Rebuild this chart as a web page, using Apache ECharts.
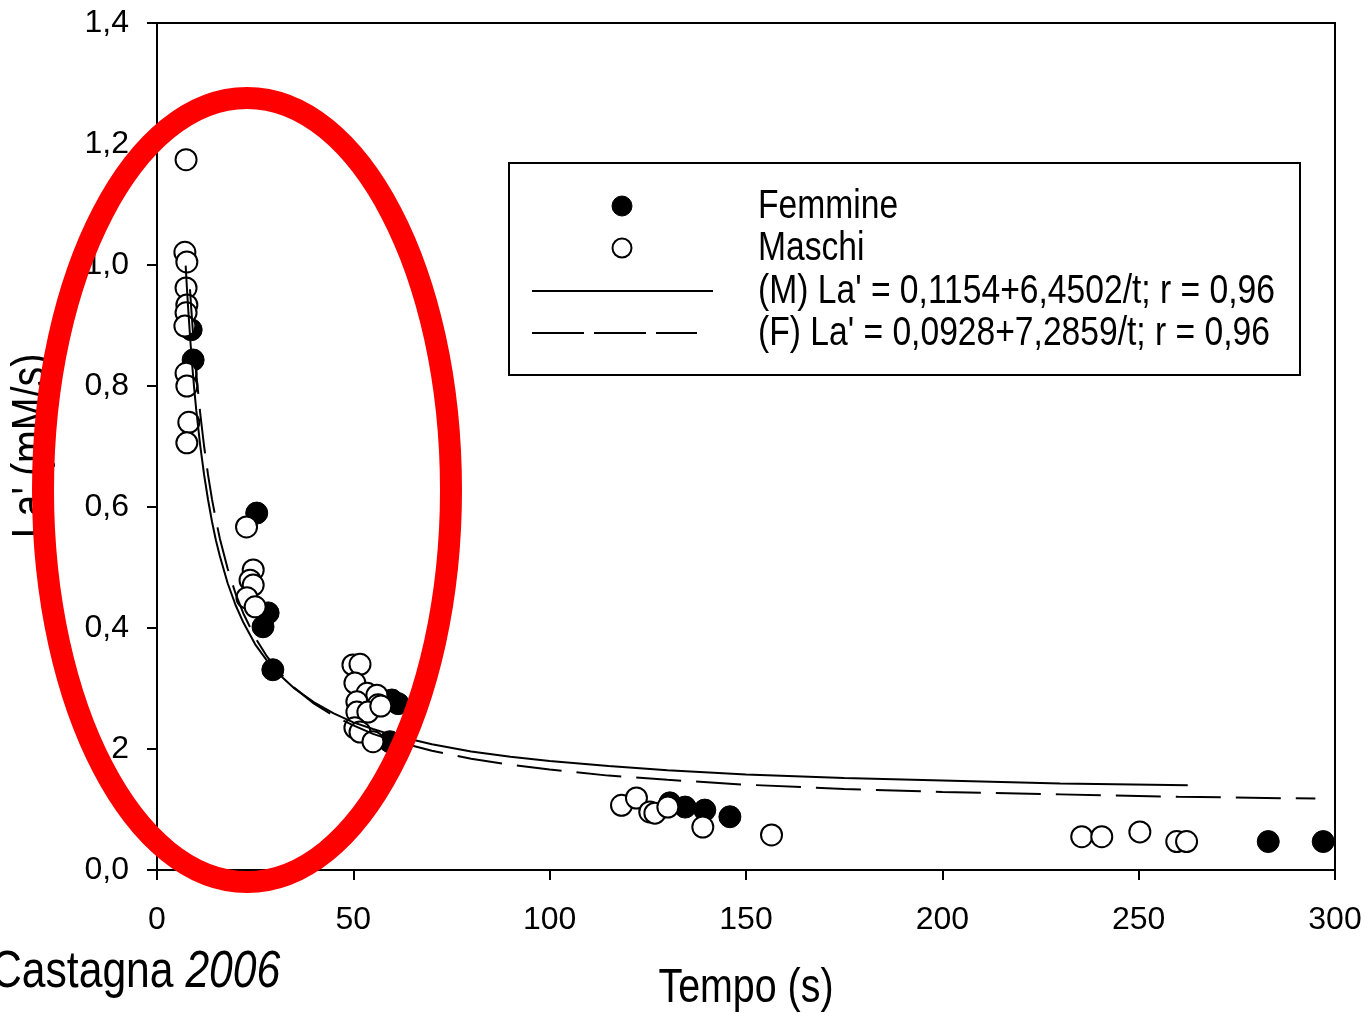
<!DOCTYPE html>
<html>
<head>
<meta charset="utf-8">
<script src="https://cdn.jsdelivr.net/npm/echarts@6/dist/echarts.min.js"></script>
<style>
html,body{margin:0;padding:0;background:#fff;overflow:hidden;}
#chart{width:1365px;height:1013px;}
</style>
</head>
<body>
<div id="chart"></div>
<script>
// Femmine (filled circles)
var femmineT  = [8.7, 9.2, 25.4, 28.3, 27.0, 29.5, 61.4, 59.8, 59.3, 130.6, 134.5, 139.5, 145.9, 283.0, 297.0];
var femmineLa = [0.893, 0.843, 0.590, 0.425, 0.402, 0.331, 0.275, 0.281, 0.212, 0.111, 0.104, 0.099, 0.088, 0.047, 0.047];
// Maschi (open circles)
var maschiT  = [7.4, 7.1, 7.6, 7.4, 7.6, 7.4, 7.1, 7.4, 7.6, 8.1, 7.6,
                22.8, 24.5, 23.7, 24.5, 22.9, 25.0,
                49.9, 51.7, 50.4, 53.5, 56.0, 50.9, 56.3, 50.9, 53.7, 50.4, 51.7, 55.0, 57.0,
                118.3, 122.1, 125.5, 126.8, 130.1, 139.0, 156.5,
                235.5, 240.6, 250.3, 259.7, 262.2];
var maschiLa = [1.174, 1.021, 1.005, 0.962, 0.934, 0.921, 0.899, 0.821, 0.800, 0.740, 0.706,
                0.567, 0.496, 0.479, 0.471, 0.450, 0.435,
                0.339, 0.340, 0.309, 0.292, 0.289, 0.278, 0.273, 0.261, 0.261, 0.235, 0.228, 0.212, 0.271,
                0.107, 0.119, 0.096, 0.094, 0.104, 0.071, 0.058,
                0.055, 0.055, 0.063, 0.047, 0.047];
// Fitted curve (M)
var curveMT  = [7.3, 7.6, 8, 8.5, 9, 9.5, 10, 11, 12, 13, 14, 15, 16, 18, 20, 22, 25, 28, 31, 35, 40, 45, 50, 55, 60, 70, 80, 90, 100, 115, 130, 150, 175, 200, 230, 262.5];
var curveMLa = [0.999, 0.964, 0.922, 0.874, 0.832, 0.794, 0.760, 0.702, 0.653, 0.612, 0.576, 0.545, 0.519, 0.474, 0.438, 0.409, 0.373, 0.346, 0.324, 0.300, 0.277, 0.259, 0.244, 0.233, 0.223, 0.208, 0.196, 0.187, 0.180, 0.172, 0.165, 0.158, 0.152, 0.148, 0.143, 0.140];
// Fitted curve (F)
var curveFT  = [8.4, 8.8, 9.2, 9.6, 10, 11, 12, 13, 14, 15, 16, 18, 20, 22, 25, 28, 31, 35, 40, 45, 50, 55, 60, 70, 80, 90, 100, 115, 130, 150, 175, 200, 230, 260, 295];
var curveFLa = [0.960, 0.921, 0.885, 0.852, 0.821, 0.755, 0.700, 0.653, 0.613, 0.579, 0.548, 0.498, 0.457, 0.424, 0.384, 0.353, 0.328, 0.301, 0.275, 0.255, 0.239, 0.225, 0.214, 0.197, 0.184, 0.174, 0.166, 0.156, 0.149, 0.141, 0.134, 0.129, 0.125, 0.121, 0.118];

var legendLabels = ['Femmine', 'Maschi', "(M) La' = 0,1154+6,4502/t; r = 0,96", "(F) La' = 0,0928+7,2859/t; r = 0,96"];
var xTitle = 'Tempo (s)';
var yTitle = "La' (mM/s)";

function zip(a, b) { return a.map(function (v, i) { return [v, b[i]]; }); }

var REG = "'Liberation Sans',Arial,sans-serif";
var NS = 0.82; // horizontal condensing to mimic a narrow face

var dom = document.getElementById('chart');
var chart = echarts.init(dom, null, {renderer: 'canvas'});
var option = {
  animation: false,
  backgroundColor: '#ffffff',
  grid: {left: 157, right: 30, top: 23, bottom: 143, show: true, borderColor: '#000', borderWidth: 2, backgroundColor: 'transparent'},
  xAxis: {
    type: 'value', min: 0, max: 300, interval: 50,
    axisLine: {show: true, onZero: false, lineStyle: {color: '#000', width: 2}},
    axisTick: {show: true, inside: false, length: 10, lineStyle: {color: '#000', width: 2}},
    axisLabel: {fontFamily: REG, fontSize: 32, color: '#000', margin: 34},
    splitLine: {show: false}
  },
  yAxis: {
    type: 'value', min: 0, max: 1.4, interval: 0.2,
    axisLine: {show: true, onZero: false, lineStyle: {color: '#000', width: 2}},
    axisTick: {show: true, inside: false, length: 10, lineStyle: {color: '#000', width: 2}},
    axisLabel: {fontFamily: REG, fontSize: 32, color: '#000', margin: 28,
      formatter: function (v) { return v.toFixed(1).replace('.', ','); }},
    splitLine: {show: false}
  },
  series: [
    {name: 'Femmine', type: 'scatter', data: zip(femmineT, femmineLa), symbol: 'circle', symbolSize: 22,
     itemStyle: {color: '#000', borderColor: '#000', borderWidth: 1, opacity: 1}, z: 2},
    {name: 'Maschi', type: 'scatter', data: zip(maschiT, maschiLa), symbol: 'circle', symbolSize: 21,
     itemStyle: {color: '#fff', borderColor: '#000', borderWidth: 2, opacity: 1}, z: 3},
    {name: 'M fit', type: 'line', data: zip(curveMT, curveMLa), smooth: false, showSymbol: false,
     lineStyle: {color: '#000', width: 2, type: 'solid'}, z: 4},
    {name: 'F fit', type: 'line', data: zip(curveFT, curveFLa), smooth: false, showSymbol: false,
     lineStyle: {color: '#000', width: 2, type: [45, 15]}, z: 4}
  ],
  graphic: [
    {type: 'rect', shape: {x: 509, y: 163, width: 791, height: 212}, style: {fill: '#fff', stroke: '#000', lineWidth: 2}, z: 10},
    {type: 'circle', shape: {cx: 622, cy: 206, r: 10}, style: {fill: '#000', stroke: '#000', lineWidth: 1}, z: 11},
    {type: 'circle', shape: {cx: 622, cy: 248, r: 9.5}, style: {fill: '#fff', stroke: '#000', lineWidth: 2}, z: 11},
    {type: 'line', shape: {x1: 532, y1: 291, x2: 713, y2: 291}, style: {stroke: '#000', lineWidth: 2}, z: 11},
    {type: 'line', shape: {x1: 532, y1: 333, x2: 697, y2: 333}, style: {stroke: '#000', lineWidth: 2, lineDash: [52, 10]}, z: 11},
    {type: 'text', x: 758, y: 207, scaleX: NS, style: {text: legendLabels[0], font: '41px ' + REG, fill: '#000', textVerticalAlign: 'middle'}, z: 11},
    {type: 'text', x: 758, y: 249, scaleX: NS, style: {text: legendLabels[1], font: '41px ' + REG, fill: '#000', textVerticalAlign: 'middle'}, z: 11},
    {type: 'text', x: 758, y: 292, scaleX: NS, style: {text: legendLabels[2], font: '41px ' + REG, fill: '#000', textVerticalAlign: 'middle'}, z: 11},
    {type: 'text', x: 758, y: 334, scaleX: NS, style: {text: legendLabels[3], font: '41px ' + REG, fill: '#000', textVerticalAlign: 'middle'}, z: 11},
    {type: 'text', x: 746, y: 989, scaleX: NS, style: {text: xTitle, font: '48px ' + REG, fill: '#000', textAlign: 'center', textVerticalAlign: 'middle'}, z: 11},
    {type: 'text', x: 32, y: 446, rotation: Math.PI / 2, scaleX: NS, style: {text: yTitle, font: '48px ' + REG, fill: '#000', textAlign: 'center', textVerticalAlign: 'middle'}, z: 11},
    {type: 'text', x: -9, y: 973, scaleX: NS, style: {
      text: '{a|Castagna }{b|2006}',
      textVerticalAlign: 'middle',
      rich: {
        a: {fontFamily: REG, fontSize: 52, color: '#000'},
        b: {fontFamily: REG, fontSize: 52, fontStyle: 'italic', color: '#000'}
      }}, z: 11},
    {type: 'ellipse', shape: {cx: 247, cy: 490, rx: 204, ry: 392}, style: {fill: 'none', stroke: '#ff0000', lineWidth: 22}, z: 50}
  ]
};
chart.setOption(option);
</script>
</body>
</html>
